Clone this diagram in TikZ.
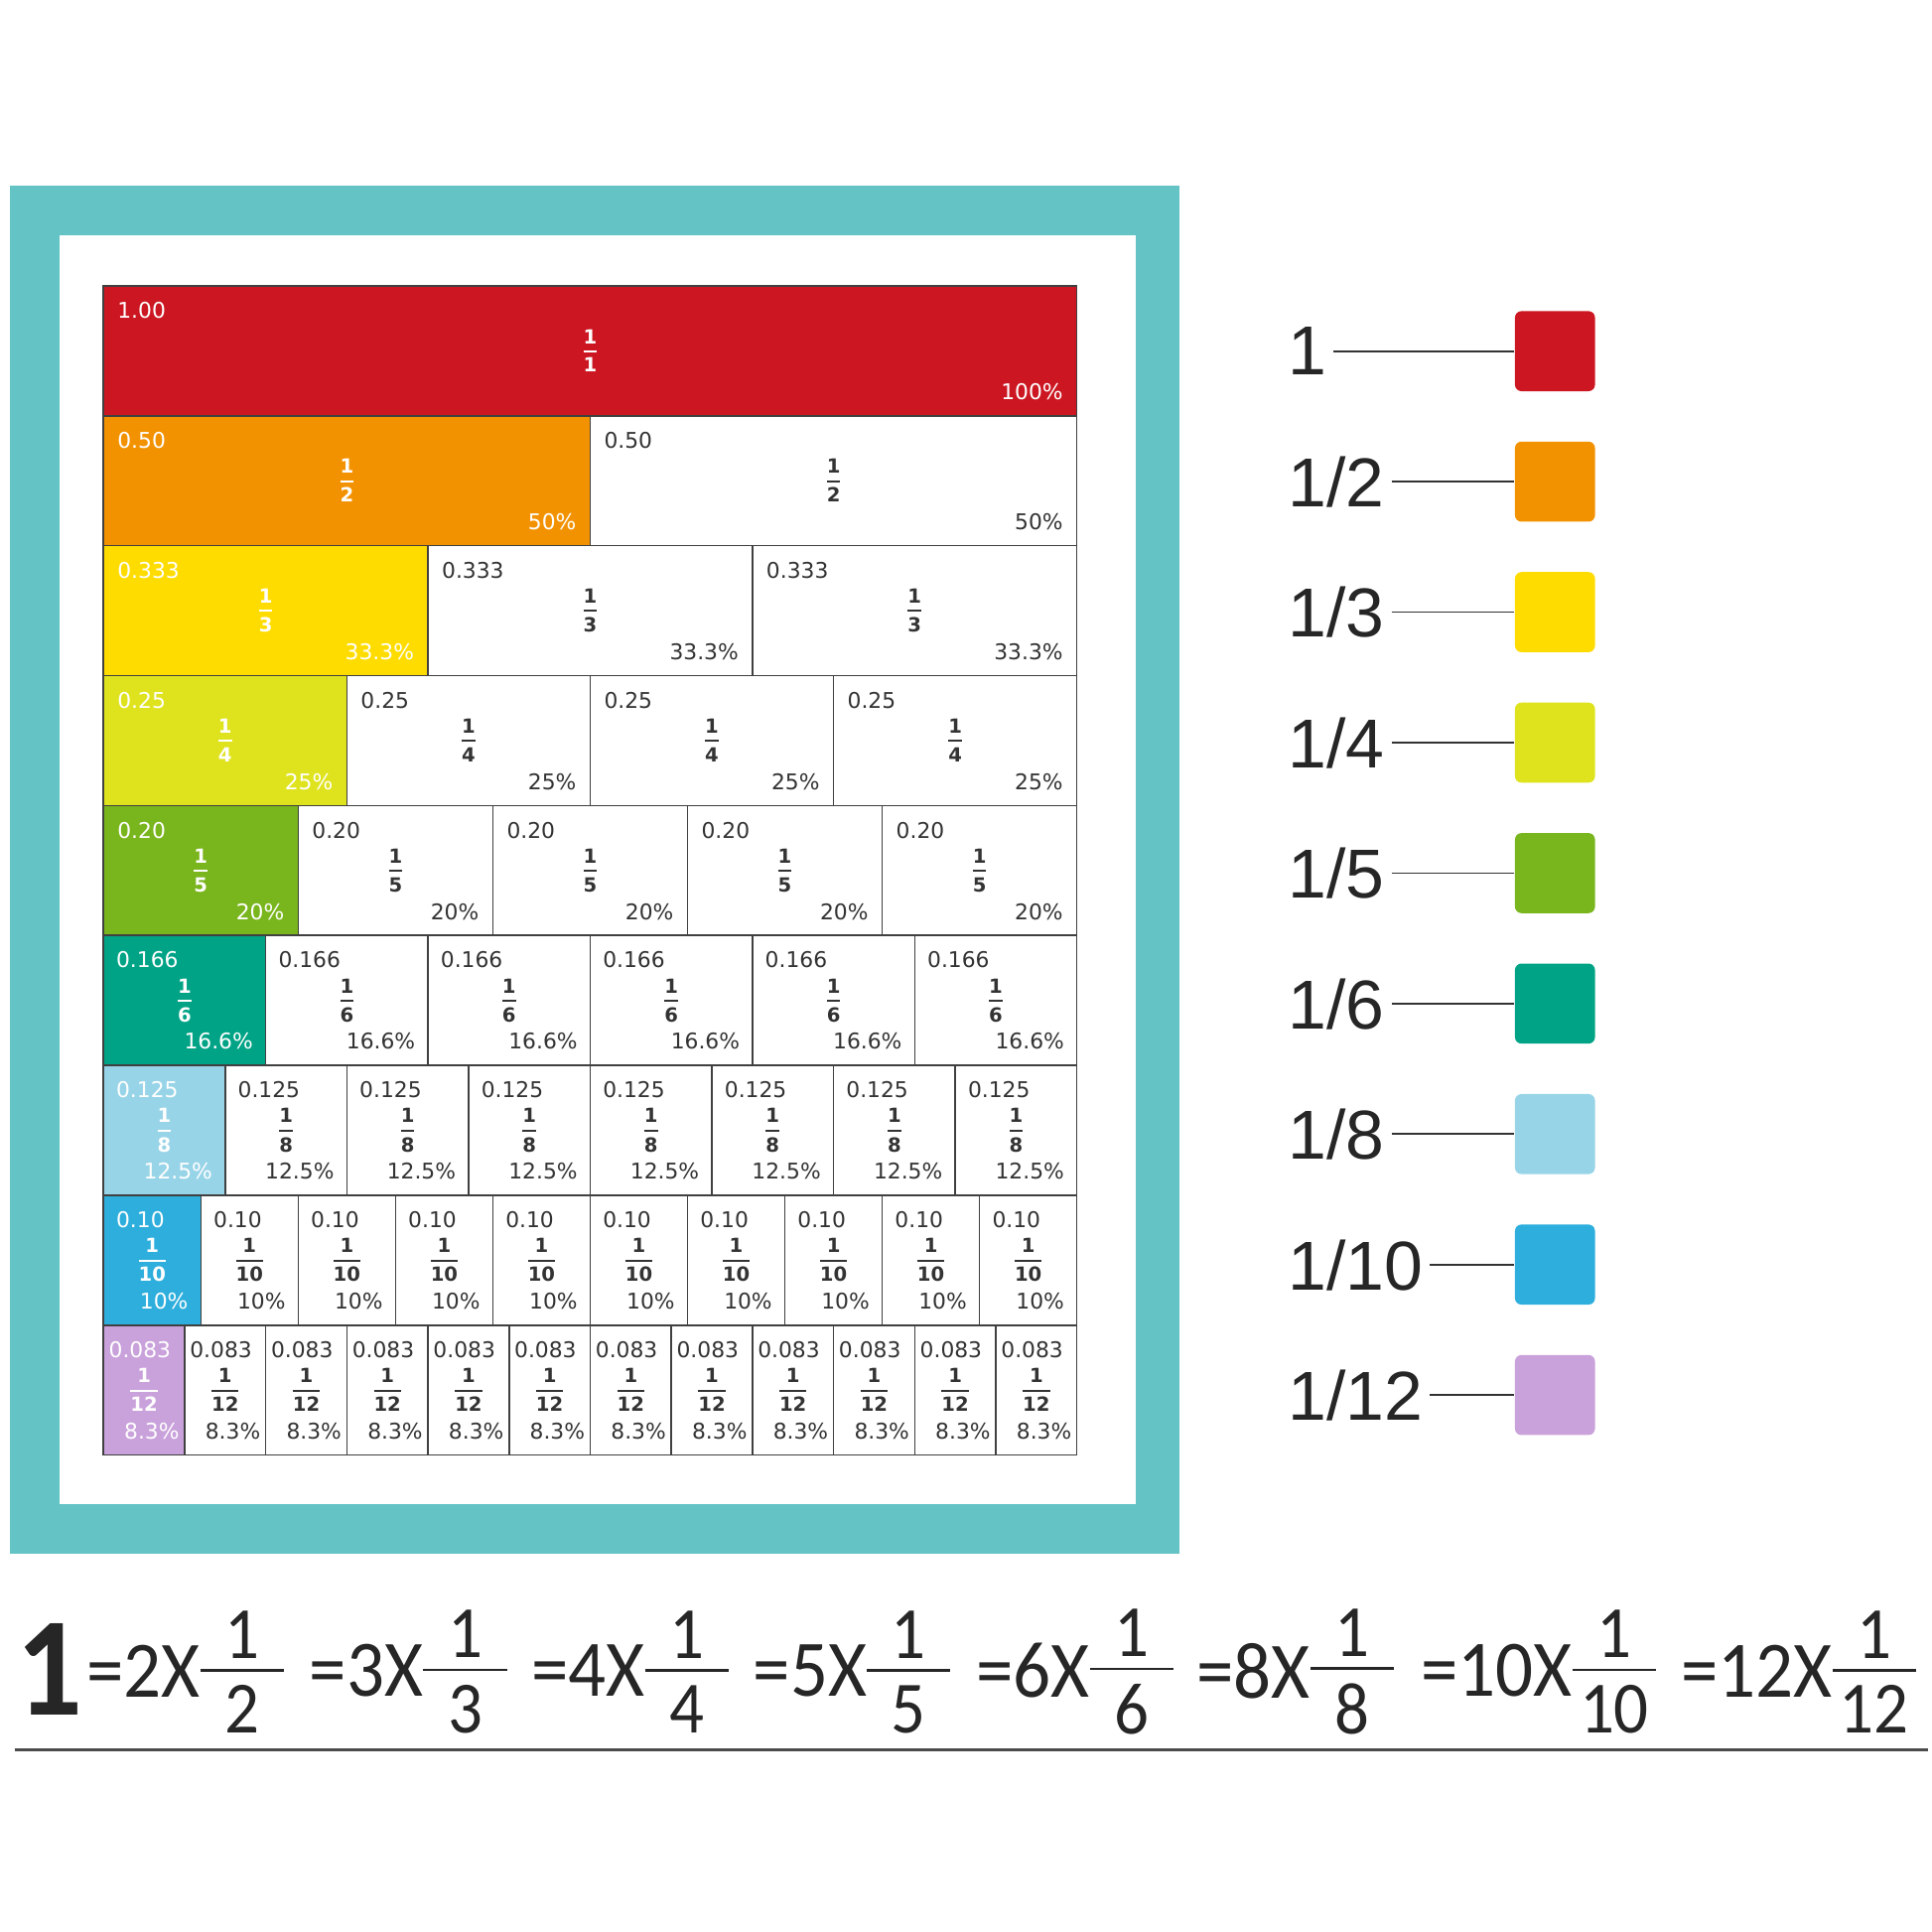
\documentclass[tikz,border=0pt]{standalone}
\usepackage{amsmath}
\usepackage{fontspec}
\setmainfont{DejaVu Sans}
\newfontfamily\legendfont{Liberation Sans}
\newfontfamily\eqfont[FakeStretch=0.93]{Carlito}
\definecolor{frameteal}{HTML}{63C3C5}
\definecolor{wallred}{HTML}{CC1722}
\definecolor{wallorange}{HTML}{F39200}
\definecolor{wallyellow}{HTML}{FFDC00}
\definecolor{walllime}{HTML}{DFE31E}
\definecolor{wallgreen}{HTML}{79B51C}
\definecolor{wallteal}{HTML}{00A385}
\definecolor{walllblue}{HTML}{98D4E8}
\definecolor{wallblue}{HTML}{2EAEDC}
\definecolor{walllilac}{HTML}{C9A1DB}
% stacked fractions: small bold ones in the wall, large ones in the equation
\newcommand\cellfrac[1]{$\genfrac{}{}{0.9pt}{0}{\mbox{\bfseries 1}}{\mbox{\bfseries #1}}$}
\newcommand\eqfrac[1]{\raisebox{-16.9pt}{\vbox{\hbox to 38.7pt{\hfil\fontsize{34}{34}\selectfont 1\hfil}\kern5pt\hrule height 1.2pt\kern6.5pt\hbox to 38.7pt{\hfil\fontsize{34}{34}\selectfont #1\hfil}}}}
\begin{document}
\begin{tikzpicture}[x=0.02cm, y=-0.02cm,
  piece/.style={draw=black!75, line width=0.7pt},
  valtext/.style={inner sep=0pt, font=\fontsize{10}{12}\selectfont},
  fractext/.style={inner sep=0pt, font=\fontsize{9}{10}\selectfont},
  swatch/.style={minimum size=1.3cm, rounded corners=3pt, inner sep=0pt},
  leglabel/.style={anchor=west, inner sep=3pt, text depth=0pt, text=black!85, font=\legendfont\fontsize{32}{36}\selectfont},
  legline/.style={draw=black!80, line width=0.8pt},
  term/.style={anchor=west, inner sep=0pt, text=black!85, font=\eqfont\fontsize{37}{40}\selectfont}]
% fix the page to the square of the reference
\useasboundingbox (0,0) rectangle (1568,1568);
% Draw the teal frame
\fill[frameteal] (8,151) rectangle (957,1261);
\fill[white] (48,191) rectangle (922,1221);
% Draw the wall, row by row
% the first piece of a row is coloured, the others are white
\foreach \r/\n/\col/\val/\pct/\gap in {1/1/wallred/1.00/100/11, 2/2/wallorange/0.50/50/11,
  3/3/wallyellow/0.333/33.3/11, 4/4/walllime/0.25/25/11, 5/5/wallgreen/0.20/20/11,
  6/6/wallteal/0.166/16.6/10, 7/8/walllblue/0.125/12.5/10, 8/10/wallblue/0.10/10/10,
  9/12/walllilac/0.083/8.3/4}
{
  \pgfmathsetmacro\w{790/\n}
  \pgfmathsetmacro\yt{232+(\r-1)*105.44}
  \foreach \k in {1,...,\n}
  {
    \pgfmathsetmacro\xl{84+(\k-1)*\w}
    \ifnum\k=1 \def\fillc{\col}\def\txt{white}\else\def\fillc{white}\def\txt{black!80}\fi
    \draw[piece, fill=\fillc] (\xl,\yt) rectangle ++(\w,105.44);
    \node[valtext, text=\txt, anchor=north west] (v\r-\k) at (\xl+\gap,\yt+13) {\val};
    \node[fractext, text=\txt] (f\r-\k) at (\xl+\w/2,\yt+52.7) {\cellfrac{\n}};
    \node[valtext, text=\txt, anchor=south east] (p\r-\k) at (\xl+\w-\gap,\yt+93) {\pct\%};
  }
}
% Draw the legend
\foreach \i/\d/\col in {0/1/wallred, 1/2/wallorange, 2/3/wallyellow, 3/4/walllime,
  4/5/wallgreen, 5/6/wallteal, 6/8/walllblue, 7/10/wallblue, 8/12/walllilac}
{
  \node[swatch, fill=\col] (sq\i) at (1262,285+\i*105.9) {};
  \node[leglabel] (lab\i) at (1040,285+\i*105.9) {\ifnum\d=1 1\else 1/\d\fi};
  \draw[legline] (lab\i.east) -- (lab\i.east -| sq\i.west);
}
% Draw the equation under the frame
\node[anchor=west, inner sep=0pt, text=black!85, font=\eqfont\bfseries\fontsize{65}{70}\selectfont] (one) at (13,1355) {1};
\foreach \m/\x in {2/70, 3/251, 4/431, 5/611, 6/792, 8/971, 10/1153, 12/1364}
  \node[term] (t\m) at (\x,1357) {=\m X\eqfrac{\m}};
\draw[black!70, line width=1.4pt] (12,1420) -- (1565,1420);
\end{tikzpicture}
\end{document}
